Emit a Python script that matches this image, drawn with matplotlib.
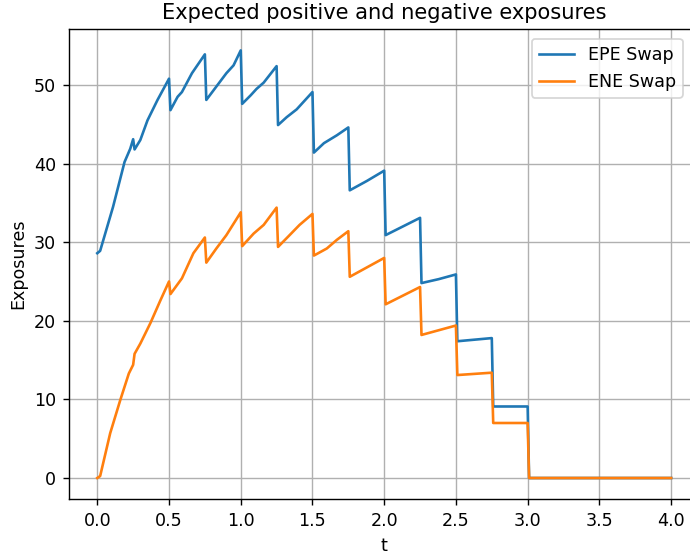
import numpy as np
import matplotlib
matplotlib.use("Agg")
import matplotlib.pyplot as plt

# expected positive exposure
t_epe = [0.0, 0.02, 0.11, 0.19, 0.23, 0.25, 0.26, 0.30, 0.35, 0.42, 0.5,
         0.51, 0.56, 0.59, 0.66, 0.75, 0.76, 0.83, 0.90, 0.95, 1.0,
         1.01, 1.07, 1.11, 1.16, 1.25, 1.26, 1.32, 1.39, 1.5,
         1.51, 1.58, 1.67, 1.75, 1.76, 1.88, 2.0, 2.01, 2.13, 2.25,
         2.26, 2.38, 2.5, 2.51, 2.75, 2.76, 3.0, 3.01, 4.0]
epe = [28.6, 28.9, 34.5, 40.2, 41.9, 43.1, 41.8, 43.0, 45.5, 48.1, 50.8,
       46.8, 48.5, 49.1, 51.5, 53.9, 48.1, 49.8, 51.5, 52.5, 54.4,
       47.6, 48.7, 49.5, 50.3, 52.4, 44.9, 45.9, 46.9, 49.1,
       41.4, 42.6, 43.6, 44.6, 36.6, 37.8, 39.1, 30.9, 32.0, 33.1,
       24.8, 25.3, 25.9, 17.4, 17.8, 9.1, 9.1, 0.0, 0.0]

# expected negative exposure
t_ene = [0.0, 0.02, 0.09, 0.16, 0.22, 0.25, 0.26, 0.30, 0.37, 0.44, 0.5,
         0.51, 0.59, 0.67, 0.75, 0.76, 0.83, 0.90, 1.0,
         1.01, 1.09, 1.16, 1.25, 1.26, 1.33, 1.41, 1.5,
         1.51, 1.60, 1.67, 1.75, 1.76, 1.88, 2.0, 2.01, 2.13, 2.25,
         2.26, 2.38, 2.5, 2.51, 2.75, 2.76, 3.0, 3.01, 4.0]
ene = [0.0, 0.25, 5.7, 9.9, 13.3, 14.4, 15.8, 17.1, 19.7, 22.6, 25.0,
       23.4, 25.4, 28.6, 30.6, 27.4, 29.2, 30.9, 33.8,
       29.5, 31.1, 32.2, 34.4, 29.4, 30.7, 32.2, 33.6,
       28.3, 29.2, 30.3, 31.4, 25.6, 26.8, 28.0, 22.1, 23.2, 24.3,
       18.2, 18.8, 19.4, 13.1, 13.4, 7.0, 7.0, 0.0, 0.0]

dpi = 126
fig = plt.figure(figsize=(690 / dpi, 556 / dpi), dpi=dpi)
ax = fig.add_axes([0.0994, 0.1018, 0.9148, 0.846])

ax.plot(t_epe, epe, label="EPE Swap")
ax.plot(t_ene, ene, label="ENE Swap")
ax.set_title("Expected positive and negative exposures")
ax.set_xlabel("t")
ax.set_ylabel("Exposures")
ax.grid(True)
ax.legend(loc="upper right", bbox_to_anchor=(0.973, 0.979), borderaxespad=0)

fig.savefig("out.png", dpi=dpi)
